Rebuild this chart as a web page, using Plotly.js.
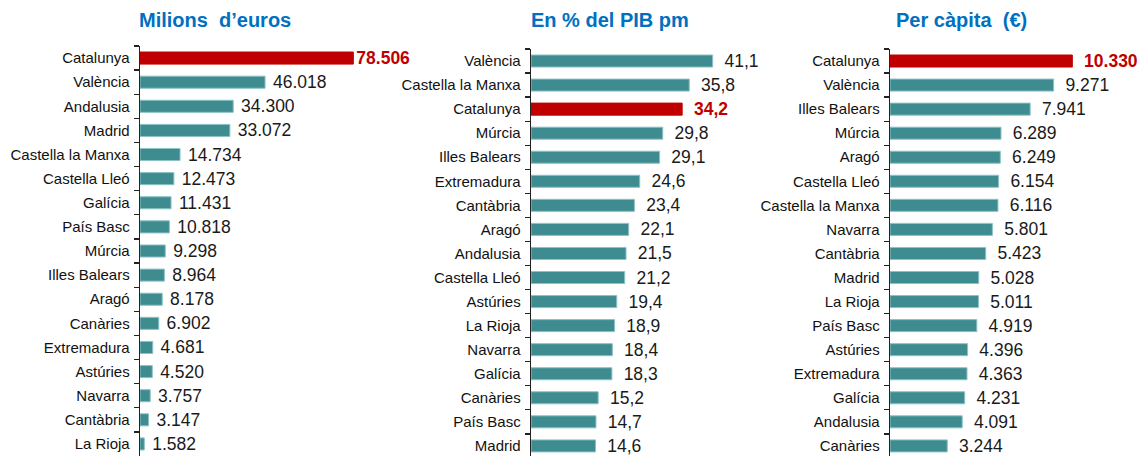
<!DOCTYPE html>
<html>
<head>
<meta charset="utf-8">
<script src="https://cdn.plot.ly/plotly-3.0.1.min.js"></script>
<style>html,body{margin:0;padding:0;background:#fff;}#chart{width:1139px;height:456px;}</style>
</head>
<body>
<div id="chart"></div>
<script>
// Panel 1: Milions d'euros
const cat1 = ["Catalunya","València","Andalusia","Madrid","Castella la Manxa","Castella Lleó","Galícia","País Basc","Múrcia","Illes Balears","Aragó","Canàries","Extremadura","Astúries","Navarra","Cantàbria","La Rioja"];
const val1 = [78506,46018,34300,33072,14734,12473,11431,10818,9298,8964,8178,6902,4681,4520,3757,3147,1582];
// Panel 2: En % del PIB pm
const cat2 = ["València","Castella la Manxa","Catalunya","Múrcia","Illes Balears","Extremadura","Cantàbria","Aragó","Andalusia","Castella Lleó","Astúries","La Rioja","Navarra","Galícia","Canàries","País Basc","Madrid"];
const val2 = [41.1,35.8,34.2,29.8,29.1,24.6,23.4,22.1,21.5,21.2,19.4,18.9,18.4,18.3,15.2,14.7,14.6];
// Panel 3: Per càpita (€)
const cat3 = ["Catalunya","València","Illes Balears","Múrcia","Aragó","Castella Lleó","Castella la Manxa","Navarra","Cantàbria","Madrid","La Rioja","País Basc","Astúries","Extremadura","Galícia","Andalusia","Canàries"];
const val3 = [10330,9271,7941,6289,6249,6154,6116,5801,5423,5028,5011,4919,4396,4363,4231,4091,3244];

const titles = ["Milions  d\u2019euros","En % del PIB pm","Per càpita  (\u20ac)"];

const TEAL = "rgb(62,140,144)";
const RED = "#C00000";
const W = 1139, H = 456;

function fmt(v, dec){
  let s = v.toFixed(dec);
  let parts = s.split(".");
  let ip = parts[0].replace(/\B(?=(\d{3})+(?!\d))/g, ".");
  return dec > 0 ? ip + "," + parts[1] : ip;
}

function mkTrace(cats, vals, dec, ax, pad, padHi){
  const colors = cats.map(c => c === "Catalunya" ? RED : TEAL);
  const lines = cats.map(c => c === "Catalunya" ? RED : "rgb(140,195,198)");
  const texts = vals.map((v,i) => cats[i] === "Catalunya" ? padHi + "<b>" + fmt(v,dec) + "</b>" : pad + fmt(v,dec));
  const tcol = cats.map(c => c === "Catalunya" ? RED : "#1a1a1a");
  return {
    type: "bar", orientation: "h",
    y: cats, x: vals,
    xaxis: "x" + ax, yaxis: "y" + ax,
    marker: {color: colors, line: {color: lines, width: 1}},
    width: 0.5,
    text: texts, textposition: "outside", cliponaxis: false, constraintext: "none",
    textfont: {family: "Liberation Sans, Arial, sans-serif", size: 17.5, color: tcol},
    hoverinfo: "skip"
  };
}

const data = [
  mkTrace(cat1, val1, 0, "", "\u00a0", ""),
  mkTrace(cat2, val2, 1, "2", "\u2002", "\u2002"),
  mkTrace(cat3, val3, 0, "3", "\u2002", "\u2002")
];

function xa(x0px, x1px, rmax, anc){
  return {domain: [x0px/W, x1px/W], range: [0, rmax], visible: false, fixedrange: true, anchor: anc};
}
function ya(cats, topPx, botPx, rBot, anc){
  return {
    domain: [1 - botPx/H, 1 - topPx/H], anchor: anc,
    type: "category", categoryarray: cats, categoryorder: "array",
    range: [rBot, -0.5], autorange: false,
    showline: true, linecolor: "#222", linewidth: 1.3,
    ticks: "outside", ticklen: 5, tickcolor: "#222", tickwidth: 1.3, tickson: "boundaries",
    ticklabelstandoff: 6,
    showgrid: false, zeroline: false,
    tickfont: {family: "Liberation Sans, Arial, sans-serif", size: 15, color: "#111"},
    fixedrange: true
  };
}

const layout = {
  width: W, height: H,
  margin: {l: 0, r: 0, t: 0, b: 0},
  paper_bgcolor: "#fff", plot_bgcolor: "rgba(0,0,0,0)",
  showlegend: false, bargap: 0.5,
  xaxis: xa(140, 140 + 95000/368, 95000, "y"),
  yaxis: ya(cat1, 46, 456, 16.5, "x"),
  xaxis2: xa(531, 531 + 52*4.42, 52, "y2"),
  yaxis2: ya(cat2, 49, 456, 16.42, "x2"),
  xaxis3: xa(890, 890 + 14000*0.01765, 14000, "y3"),
  yaxis3: ya(cat3, 49, 456, 16.42, "x3"),
  annotations: [
    {text: "<b>" + titles[0] + "</b>", x: 215/W, y: 1 - 20/H},
    {text: "<b>" + titles[1] + "</b>", x: 610/W, y: 1 - 20/H},
    {text: "<b>" + titles[2] + "</b>", x: 961/W, y: 1 - 20/H}
  ].map(a => Object.assign(a, {xref: "paper", yref: "paper", showarrow: false, xanchor: "center", yanchor: "middle",
      font: {family: "Liberation Sans, Arial, sans-serif", size: 20, color: "#0070C0"}}))
};

Plotly.newPlot("chart", data, layout, {displayModeBar: false, staticPlot: true});
</script>
</body>
</html>
